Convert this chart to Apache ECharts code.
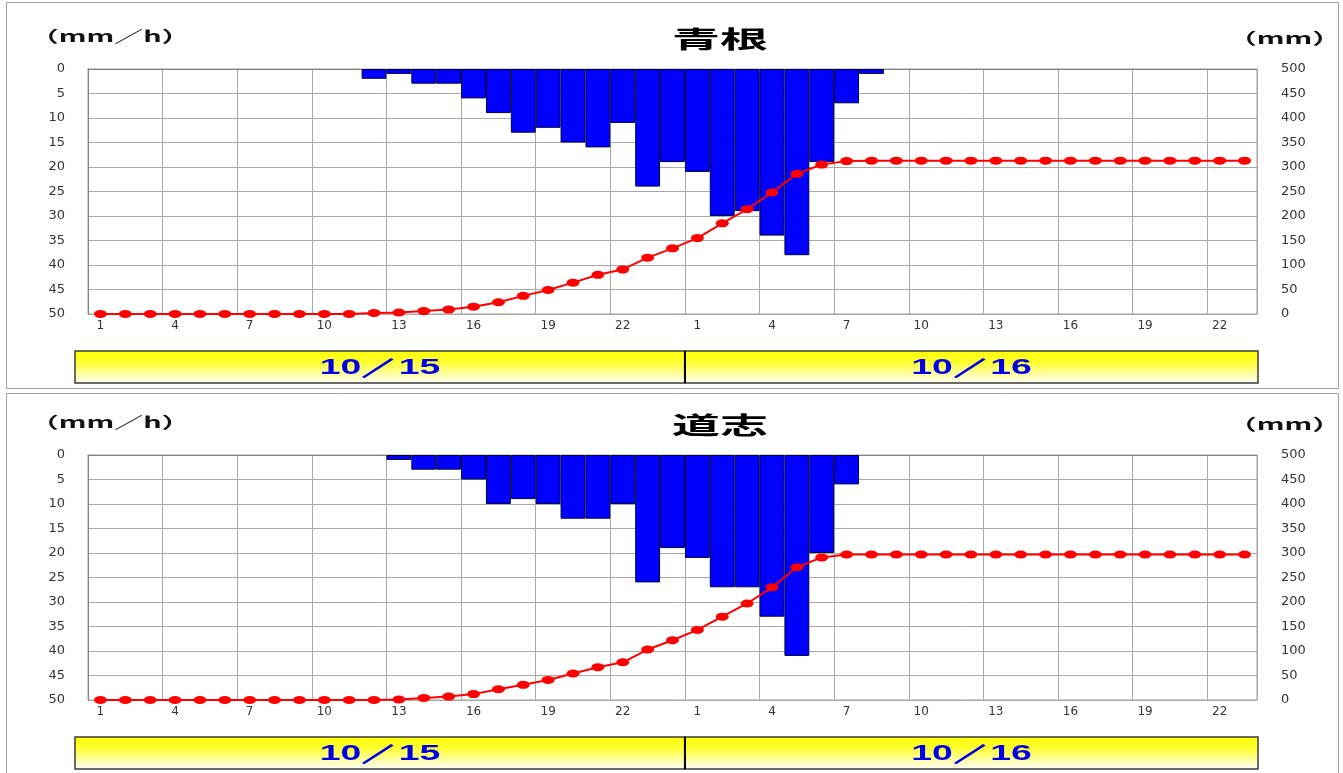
<!DOCTYPE html>
<html><head><meta charset="utf-8">
<script src="https://cdn.jsdelivr.net/npm/echarts@6/dist/echarts.min.js"></script>
<style>html,body{margin:0;padding:0;background:#fff}#c{width:1343px;height:773px}</style>
</head><body><div id="c"></div>
<script>
// hour tick labels: 10/15 1..24, 10/16 1..23
const hours = ['1','2','3','4','5','6','7','8','9','10','11','12','13','14','15','16','17','18','19','20','21','22','23','24',
               '1','2','3','4','5','6','7','8','9','10','11','12','13','14','15','16','17','18','19','20','21','22','23'];
const days = ['10／15', '10／16'];
const stations = ['青根', '道志'];
// hourly rainfall (mm/h)
const aoneRain = [0,0,0,0,0,0,0,0,0,0,0,2,1,3,3,6,9,13,12,15,16,11,24,19,
                  21,30,29,34,38,19,7,1,0,0,0,0,0,0,0,0,0,0,0,0,0,0,0];
// cumulative rainfall (mm)
const aoneCum  = [0,0,0,0,0,0,0,0,0,0,0,2,3,6,9,15,24,37,49,64,80,91,115,134,
                  155,185,214,248,286,305,312,313,313,313,313,313,313,313,313,313,313,313,313,313,313,313,313];
const doshiRain = [0,0,0,0,0,0,0,0,0,0,0,0,1,3,3,5,10,9,10,13,13,10,26,19,
                   21,27,27,33,41,20,6,0,0,0,0,0,0,0,0,0,0,0,0,0,0,0,0];
const doshiCum  = [0,0,0,0,0,0,0,0,0,0,0,0,1,4,7,12,22,31,41,54,67,77,103,122,
                   143,170,197,230,271,291,297,297,297,297,297,297,297,297,297,297,297,297,297,297,297,297,297];
const rateTicks = {min:0, max:50, interval:5};
const cumTicks = {min:0, max:500, interval:50};

const chart = echarts.init(document.getElementById('c'), null, {renderer:'canvas'});
const FONT = 'DejaVu Sans';
const GRID_LEFT = 88, GRID_W = 1169, GRID_H = 245;
const tops = [69, 455];
const SX = 1.7;

function xAxis(gi){
  return {type:'category', gridIndex:gi, data:hours, boundaryGap:true,
    axisLine:{show:true, lineStyle:{color:'#808080', width:1}},
    axisTick:{show:false},
    axisLabel:{interval:2, color:'#333', fontFamily:FONT, fontSize:12, margin:6},
    splitLine:{show:true, interval:2, lineStyle:{color:'#a8a8a8', width:1}}};
}
function yLeft(gi){
  return {type:'value', gridIndex:gi, inverse:true, min:rateTicks.min, max:rateTicks.max, interval:rateTicks.interval,
    axisLine:{show:true, lineStyle:{color:'#808080'}}, axisTick:{show:false},
    axisLabel:{color:'#333', fontFamily:FONT, fontSize:13, margin:23},
    splitLine:{show:true, lineStyle:{color:'#a8a8a8', width:1}}};
}
function yRight(gi){
  return {type:'value', gridIndex:gi, position:'right', min:cumTicks.min, max:cumTicks.max, interval:cumTicks.interval,
    axisLine:{show:false}, axisTick:{show:false},
    axisLabel:{color:'#333', fontFamily:FONT, fontSize:13, margin:24},
    splitLine:{show:false}};
}
function barSeries(gi, data){
  return {type:'bar', xAxisIndex:gi, yAxisIndex:gi*2, data:data.map(v => v === 0 ? null : v),
    barCategoryGap:'0%', barGap:'0%', itemStyle:{color:'#0000ff', borderColor:'#000040', borderWidth:1}, z:2, silent:true};
}
function lineSeries(gi, data){
  return {type:'line', xAxisIndex:gi, yAxisIndex:gi*2+1, data:data, symbol:'circle', symbolSize:[13,8],
    lineStyle:{color:'#ff0000', width:2}, itemStyle:{color:'#ff0000'}, z:3, silent:true};
}

const graphics = [];
const panelTop = [2, 393];
for (let p = 0; p < 2; p++){
  graphics.push({type:'rect', shape:{x:6.5, y:panelTop[p]+0.5, width:1332, height:p===0?386:400},
    style:{fill:null, stroke:'#a0a0a0', lineWidth:1}, z:-1});
  const t = tops[p];
  graphics.push({type:'text', x:720, y:t-30, scaleX:2.0, style:{text:stations[p], fill:'#000', font:'bold 24px "Noto Sans CJK JP"', textAlign:'center', textVerticalAlign:'middle'}});
  graphics.push({type:'text', x:30, y:t-33, scaleX:1.8, style:{text:'（mm／h）', fill:'#111', font:'bold 16px "Noto Sans CJK JP"', textAlign:'left', textVerticalAlign:'middle'}});
  graphics.push({type:'text', x:1228, y:t-31, scaleX:1.8, style:{text:'（mm）', fill:'#111', font:'bold 16px "Noto Sans CJK JP"', textAlign:'left', textVerticalAlign:'middle'}});
  // date bars
  const by = t + GRID_H + 37;
  const xs = [75, GRID_LEFT + GRID_W*24/47, 1258];
  for (let d = 0; d < 2; d++){
    graphics.push({type:'rect', shape:{x:xs[d], y:by, width:xs[d+1]-xs[d], height:32},
      style:{fill:new echarts.graphic.LinearGradient(0,0,0,1,[{offset:0,color:'#ffff00'},{offset:0.35,color:'#ffff30'},{offset:1,color:'#ffffff'}]),
             stroke:'#3a3a3a', lineWidth:1.5}});
    graphics.push({type:'text', x:(xs[d]+xs[d+1])/2, y:by+17, scaleX:SX, style:{text:days[d], fill:'#0000e6', font:'bold 22px "Liberation Sans"', textAlign:'center', textVerticalAlign:'middle'}});
  }
  graphics.push({type:'line', shape:{x1:xs[1], y1:by, x2:xs[1], y2:by+32}, style:{stroke:'#000', lineWidth:2}});
}

chart.setOption({
  animation:false,
  backgroundColor:'#ffffff',
  grid:[
    {left:GRID_LEFT, top:tops[0], width:GRID_W, height:GRID_H, show:true, borderColor:'#a0a0a0', borderWidth:1, backgroundColor:'#fff'},
    {left:GRID_LEFT, top:tops[1], width:GRID_W, height:GRID_H, show:true, borderColor:'#a0a0a0', borderWidth:1, backgroundColor:'#fff'}
  ],
  xAxis:[xAxis(0), xAxis(1)],
  yAxis:[yLeft(0), yRight(0), yLeft(1), yRight(1)],
  series:[barSeries(0, aoneRain), lineSeries(0, aoneCum), barSeries(1, doshiRain), lineSeries(1, doshiCum)],
  graphic:graphics
});
</script></body></html>
